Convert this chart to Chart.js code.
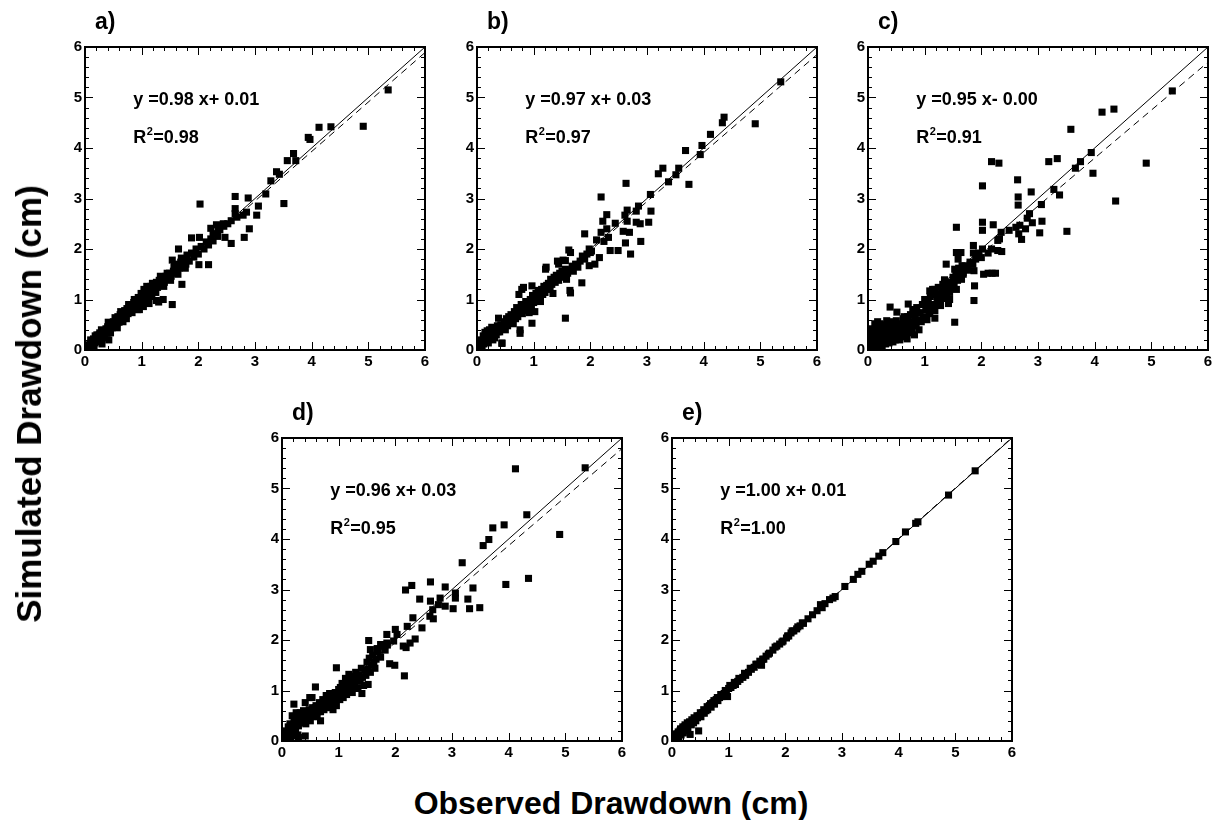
<!DOCTYPE html>
<html>
<head>
<meta charset="utf-8">
<script src="https://cdn.jsdelivr.net/npm/chart.js@4.4.0/dist/chart.umd.min.js"></script>
<style>
    body { margin: 0; background: #fff; }
    #wrap { position: relative; width: 1221px; height: 820px; overflow: hidden; font-family: "Liberation Sans", Arial, sans-serif; }
    .panel { position: absolute; }
    .axis-title { position: absolute; font-weight: bold; white-space: nowrap; color: #000; }
    #yTitle { left: 29px; top: 404px; font-size: 35px; transform: translate(-50%, -50%) rotate(-90deg); }
    #xTitle { left: 611px; top: 803px; font-size: 32px; transform: translate(-50%, -50%); }
</style>
</head>
<body>
<div id="wrap">
    <canvas id="chartA" class="panel" width="390" height="370" style="left:45px;top:7px"></canvas>
    <canvas id="chartB" class="panel" width="390" height="370" style="left:437px;top:7px"></canvas>
    <canvas id="chartC" class="panel" width="390" height="370" style="left:828px;top:7px"></canvas>
    <canvas id="chartD" class="panel" width="390" height="370" style="left:242px;top:398px"></canvas>
    <canvas id="chartE" class="panel" width="390" height="370" style="left:632px;top:398px"></canvas>
    <div id="yTitle" class="axis-title">Simulated Drawdown (cm)</div>
    <div id="xTitle" class="axis-title">Observed Drawdown (cm)</div>
</div>
<script>
// ---------- DATA: [observed, simulated] pairs per panel ----------
const pointsA = [
    [0.00,0.02],[0.02,0.00],[0.03,0.06],[0.05,0.02],[0.06,0.10],[0.08,0.04],[0.09,0.13],[0.11,0.08],[0.12,0.18],[0.14,0.10],
    [0.15,0.22],[0.17,0.14],[0.18,0.28],[0.20,0.16],[0.22,0.25],[0.23,0.19],[0.25,0.30],[0.27,0.22],[0.29,0.40],[0.30,0.12],
    [0.31,0.28],[0.33,0.36],[0.35,0.30],[0.37,0.42],[0.39,0.33],[0.41,0.55],[0.42,0.20],[0.44,0.40],[0.46,0.52],[0.48,0.44],
    [0.50,0.56],[0.52,0.47],[0.54,0.60],[0.56,0.52],[0.58,0.66],[0.60,0.55],[0.62,0.70],[0.64,0.60],[0.66,0.74],[0.68,0.64],
    [0.70,0.78],[0.72,0.68],[0.74,0.82],[0.76,0.72],[0.78,0.86],[0.80,0.76],[0.82,0.90],[0.84,0.80],[0.86,0.94],[0.88,0.84],
    [0.90,1.00],[0.92,0.88],[0.94,1.04],[0.96,0.80],[0.98,0.96],[1.00,1.10],[1.02,0.94],[1.04,1.20],[1.06,1.02],[1.08,1.14],
    [1.10,0.98],[1.12,1.22],[1.14,1.06],[1.16,1.26],[1.18,1.12],[1.20,1.30],[1.23,1.18],[1.26,1.34],[1.28,1.24],[1.31,1.38],
    [1.34,1.28],[1.37,1.42],[1.40,1.34],[1.43,1.46],[1.46,1.40],[1.49,1.52],[1.52,1.46],[1.54,1.78],[1.56,1.56],[1.58,1.66],
    [1.60,1.52],[1.63,1.70],[1.66,1.62],[1.69,1.74],[1.72,1.66],[1.75,1.80],[1.78,1.70],[1.80,1.88],[1.84,1.76],[1.88,1.92],
    [1.92,1.84],[1.96,2.00],[2.00,1.90],[2.05,2.05],[2.10,2.00],[2.14,2.14],[2.18,2.08],[2.22,2.20],[2.26,2.16],[2.30,2.30],
    [2.34,2.25],[2.38,2.38],[2.45,2.45],[2.52,2.50],[2.58,2.56],
    [0.10,0.20],[0.16,0.08],[0.21,0.30],[0.26,0.34],[0.34,0.24],[0.40,0.46],[0.45,0.34],[0.53,0.64],[0.57,0.44],[0.63,0.76],
    [0.67,0.56],[0.73,0.62],[0.77,0.90],[0.83,0.74],[0.87,1.00],[0.93,0.80],[0.99,1.12],[1.03,0.86],[1.09,1.26],[1.13,0.92],
    [1.19,1.32],[1.25,1.14],[1.33,1.46],[1.39,1.26],[1.45,1.52],[1.51,1.38],[1.57,1.64],[1.64,1.50],[1.70,1.82],[1.77,1.62],
    [5.35,5.15],[4.91,4.43],[4.34,4.42],[4.13,4.41],[3.94,4.21],[3.97,4.17],[3.68,3.89],[3.57,3.75],[3.72,3.75],[3.38,3.53],
    [3.43,3.48],[3.28,3.35],[3.19,3.09],[3.51,2.90],[3.06,2.85],[3.03,2.67],[2.88,3.01],[2.65,3.04],[2.65,2.80],[2.65,2.70],
    [2.68,2.63],[2.79,2.67],[2.85,2.73],[2.90,2.40],[2.81,2.23],[2.58,2.11],[2.47,2.23],[2.44,2.50],[2.32,2.48],[2.35,2.40],
    [2.22,2.41],[2.26,2.30],[2.03,2.89],[2.02,2.23],[1.88,2.22],[2.01,1.69],[2.18,1.69],[1.65,2.00],[1.71,1.30],[1.59,1.67],
    [1.38,1.00],[1.54,0.90],[1.26,0.98],[1.30,0.95]
];
const pointsB = [
    [0.00,0.03],[0.02,0.10],[0.03,0.00],[0.05,0.15],[0.06,0.05],[0.08,0.20],[0.09,0.08],[0.11,0.28],[0.12,0.12],[0.14,0.35],
    [0.15,0.16],[0.17,0.22],[0.19,0.30],[0.20,0.14],[0.22,0.40],[0.24,0.26],[0.26,0.45],[0.28,0.20],[0.30,0.34],[0.32,0.42],
    [0.34,0.30],[0.36,0.48],[0.38,0.63],[0.40,0.36],[0.42,0.50],[0.44,0.14],[0.46,0.44],[0.48,0.56],[0.50,0.40],[0.52,0.62],
    [0.54,0.48],[0.56,0.66],[0.58,0.56],[0.60,0.70],[0.62,0.58],[0.64,0.52],[0.66,0.76],[0.68,0.62],[0.70,0.84],[0.72,0.66],
    [0.74,1.10],[0.76,0.40],[0.78,0.90],[0.80,0.72],[0.82,1.24],[0.84,0.86],[0.86,0.96],[0.88,0.78],[0.90,0.92],[0.92,0.74],
    [0.94,1.00],[0.96,0.86],[0.98,1.08],[1.00,0.94],[1.02,0.76],[1.04,1.12],[1.06,1.00],[1.08,1.18],[1.10,1.04],[1.12,0.96],
    [1.14,1.20],[1.16,1.10],[1.18,1.26],[1.20,1.14],[1.22,1.64],[1.24,1.20],[1.26,1.32],[1.28,1.22],[1.30,1.40],[1.32,1.30],
    [1.34,1.12],[1.36,1.44],[1.38,1.34],[1.40,1.48],[1.42,1.76],[1.44,1.38],[1.46,1.52],[1.48,1.44],[1.50,1.56],[1.52,1.78],
    [1.54,1.48],[1.56,1.60],[1.58,1.40],[1.60,1.52],[1.62,1.98],[1.64,1.18],[1.66,1.58],[1.68,1.66],[1.70,1.56],[1.74,1.70],
    [1.78,1.64],[1.82,1.76],[1.86,1.86],[1.90,1.80],[1.94,1.90],[1.98,2.00],[2.02,1.96],
    [0.07,0.12],[0.13,0.22],[0.18,0.38],[0.25,0.30],[0.31,0.24],[0.37,0.36],[0.43,0.42],[0.49,0.48],[0.55,0.58],[0.61,0.62],
    [0.67,0.68],[0.73,0.74],[0.79,0.80],[0.85,0.90],[0.91,0.86],[0.99,0.98],[1.05,1.06],[1.11,1.12],[1.17,1.16],[1.23,1.28],
    [1.29,1.26],[1.35,1.36],[1.41,1.40],[1.47,1.50],[1.53,1.54],
    [5.36,5.31],[4.91,4.48],[4.36,4.61],[4.33,4.50],[4.12,4.27],[3.97,4.05],[3.94,3.87],[3.68,3.95],[3.56,3.60],[3.51,3.47],
    [3.74,3.28],[3.38,3.33],[3.28,3.60],[3.20,3.49],[3.06,3.08],[3.07,2.75],[3.03,2.53],[2.89,2.15],[2.88,2.50],[2.81,2.75],
    [2.85,2.85],[2.81,2.53],[2.63,3.30],[2.65,2.77],[2.61,2.67],[2.65,2.55],[2.58,2.35],[2.69,2.33],[2.62,2.12],[2.71,1.90],
    [2.49,1.97],[2.44,2.51],[2.35,1.97],[2.29,2.68],[2.19,3.03],[2.22,2.55],[2.19,2.33],[2.11,2.18],[2.29,2.40],[2.32,2.23],
    [2.24,2.15],[2.16,1.83],[2.08,1.70],[2.00,1.93],[1.90,2.30],[1.98,1.67],[1.85,1.33],[1.65,1.93],[1.65,1.13],[1.56,1.77],
    [1.56,0.63],[1.44,1.70],[1.21,1.60],[0.97,1.27],[0.97,0.53],[0.79,1.20],[0.44,0.13],[0.76,0.33]
];
const pointsC = [
    [0.00,0.02],[0.02,0.08],[0.03,0.00],[0.04,0.15],[0.05,0.04],[0.06,0.22],[0.07,0.10],[0.08,0.30],[0.09,0.05],[0.10,0.18],
    [0.11,0.40],[0.12,0.08],[0.13,0.26],[0.14,0.50],[0.15,0.12],[0.16,0.34],[0.17,0.06],[0.18,0.45],[0.19,0.20],[0.20,0.10],
    [0.21,0.52],[0.22,0.30],[0.23,0.14],[0.24,0.40],[0.25,0.08],[0.26,0.24],[0.27,0.50],[0.28,0.16],[0.30,0.34],[0.31,0.12],
    [0.32,0.28],[0.33,0.58],[0.34,0.18],[0.36,0.40],[0.37,0.14],[0.38,0.24],[0.40,0.50],[0.41,0.20],[0.42,0.32],[0.44,0.16],
    [0.45,0.44],[0.46,0.26],[0.48,0.20],[0.49,0.36],[0.50,0.58],[0.52,0.24],[0.53,0.42],[0.55,0.30],[0.56,0.20],[0.58,0.50],
    [0.59,0.34],[0.60,0.26],[0.62,0.62],[0.63,0.40],[0.65,0.30],[0.66,0.55],[0.68,0.44],[0.69,0.22],[0.70,0.66],[0.72,0.50],
    [0.73,0.34],[0.75,0.70],[0.76,0.46],[0.78,0.38],[0.79,0.80],[0.80,0.56],[0.82,0.30],[0.83,0.68],[0.85,0.48],[0.86,0.84],
    [0.88,0.60],[0.90,0.40],[0.92,0.74],[0.94,0.56],[0.96,0.90],[0.98,0.66],[1.00,1.00],[1.02,0.80],[1.04,0.60],[1.06,0.92],
    [1.08,0.72],[1.10,1.06],[1.12,0.86],[1.14,1.20],[1.16,0.90],[1.18,0.78],[1.20,1.10],[1.22,0.96],[1.24,1.24],[1.26,1.04],
    [1.28,0.88],[1.30,1.16],[1.32,1.30],[1.34,1.02],[1.36,1.20],[1.38,1.08],[1.40,1.26],[1.42,0.92],[1.44,1.14],[1.46,1.34],
    [1.48,1.22],[1.50,1.44],[1.52,1.30],[1.55,1.50],[1.58,1.38],[1.60,1.62],[1.62,1.46],[1.65,1.56],[1.68,1.50],[1.72,1.66],
    [1.76,1.58],[1.80,1.74],[1.84,1.70],[1.90,1.80],[1.95,1.92],
    [0.02,0.20],[0.05,0.30],[0.08,0.42],[0.12,0.52],[0.17,0.56],[0.20,0.30],[0.25,0.44],[0.29,0.22],[0.35,0.50],[0.39,0.30],
    [0.43,0.56],[0.47,0.42],[0.51,0.34],[0.54,0.52],[0.57,0.40],[0.61,0.48],[0.64,0.66],[0.67,0.36],[0.71,0.58],[0.74,0.42],
    [5.37,5.13],[4.91,3.70],[4.37,2.95],[4.34,4.77],[4.13,4.71],[3.58,4.37],[3.94,3.91],[3.97,3.50],[3.75,3.73],[3.66,3.60],
    [3.19,3.73],[3.34,3.79],[3.28,3.18],[3.38,3.07],[3.51,2.35],[3.06,2.88],[3.07,2.55],[3.03,2.32],[2.88,3.13],[2.90,2.52],
    [2.85,2.70],[2.81,2.61],[2.78,2.40],[2.64,3.37],[2.65,3.03],[2.65,2.87],[2.68,2.47],[2.71,2.19],[2.66,2.30],[2.61,2.43],
    [2.49,2.37],[2.35,2.33],[2.32,2.20],[2.18,3.73],[2.31,3.70],[2.02,3.25],[2.02,2.53],[2.02,2.37],[2.21,2.48],[2.29,2.17],
    [2.29,1.97],[2.36,1.95],[2.18,2.00],[2.12,1.92],[2.02,2.00],[2.00,1.83],[2.04,1.50],[2.12,1.52],[2.19,1.52],[2.25,1.52],
    [1.86,2.07],[1.86,1.92],[1.85,1.70],[1.87,1.57],[1.88,1.27],[1.87,0.98],[1.56,2.43],[1.56,1.93],[1.59,1.80],[1.64,1.93],
    [1.66,1.67],[1.68,1.53],[1.65,1.40],[1.53,1.60],[1.57,1.47],[1.56,1.20],[1.53,0.55],[1.38,1.70],[1.35,1.39],[1.18,1.20],
    [1.18,0.63],[1.09,0.73],[1.24,0.97],[1.09,1.17],[1.06,0.97],[1.44,1.00],[1.38,1.07],[0.39,0.85],[0.51,0.75],[0.71,0.91],
    [0.82,0.80]
];
const pointsD = [
    [0.00,0.02],[0.02,0.08],[0.03,0.00],[0.05,0.14],[0.06,0.04],[0.08,0.20],[0.09,0.08],[0.11,0.28],[0.12,0.12],[0.14,0.34],
    [0.15,0.06],[0.17,0.22],[0.18,0.50],[0.20,0.16],[0.22,0.40],[0.23,0.26],[0.25,0.56],[0.27,0.32],[0.28,0.12],[0.30,0.44],
    [0.32,0.56],[0.34,0.36],[0.36,0.50],[0.38,0.60],[0.40,0.44],[0.42,0.34],[0.44,0.56],[0.46,0.46],[0.48,0.62],[0.50,0.40],
    [0.52,0.54],[0.54,0.66],[0.56,0.48],[0.58,0.60],[0.60,0.70],[0.62,0.52],[0.64,0.64],[0.66,0.76],[0.68,0.58],[0.70,0.68],
    [0.72,0.82],[0.74,0.62],[0.76,0.72],[0.78,0.90],[0.80,0.66],[0.82,0.78],[0.84,0.94],[0.86,0.72],[0.88,0.84],[0.90,0.62],
    [0.92,0.78],[0.94,0.96],[0.96,0.70],[0.98,0.88],[1.00,1.02],[1.02,0.82],[1.04,0.94],[1.06,1.14],[1.08,0.86],[1.10,1.00],
    [1.12,1.24],[1.14,0.92],[1.16,1.08],[1.18,1.32],[1.20,1.00],[1.22,1.14],[1.24,0.96],[1.26,1.28],[1.28,1.10],[1.30,1.36],
    [1.32,1.18],[1.34,1.04],[1.36,1.30],[1.38,1.20],[1.40,1.44],[1.42,1.26],[1.44,1.10],[1.46,1.40],[1.48,1.30],[1.50,1.56],
    [1.52,1.42],[1.54,1.64],[1.56,1.36],[1.58,1.50],[1.60,1.70],[1.62,1.56],[1.64,1.44],[1.66,1.62],[1.70,1.76],[1.74,1.66],
    [1.78,1.88],[1.82,1.80],[1.86,1.90],
    [0.04,0.10],[0.07,0.16],[0.10,0.04],[0.13,0.20],[0.16,0.30],[0.19,0.10],[0.21,0.36],[0.24,0.18],[0.26,0.44],[0.29,0.30],
    [0.31,0.52],[0.35,0.44],[0.39,0.40],[0.43,0.50],[0.47,0.54],[0.51,0.60],[0.55,0.58],[0.59,0.66],[0.63,0.58],[0.67,0.70],
    [0.71,0.74],[0.75,0.80],[0.79,0.76],[0.83,0.86],[0.87,0.90],[0.91,0.86],[0.95,0.90],[0.99,0.96],[1.03,1.06],[1.07,1.00],
    [1.11,1.10],[1.15,1.18],[1.19,1.12],[1.23,1.20],[1.27,1.24],[1.31,1.28],
    [5.35,5.41],[4.12,5.39],[4.90,4.09],[4.32,4.48],[4.35,3.22],[3.92,4.28],[3.95,3.10],[3.72,4.22],[3.65,3.99],[3.55,3.87],
    [3.18,3.53],[3.37,3.03],[3.28,2.81],[3.31,2.62],[3.49,2.64],[3.06,2.93],[3.06,2.83],[3.02,2.62],[2.88,3.05],[2.88,2.67],
    [2.79,2.83],[2.76,2.70],[2.62,3.15],[2.62,2.77],[2.66,2.60],[2.61,2.47],[2.67,2.42],[2.29,3.08],[2.18,2.99],[2.43,2.81],
    [2.31,2.44],[2.21,2.27],[2.47,2.24],[2.35,2.02],[2.16,1.29],[2.26,1.94],[2.19,1.85],[2.14,1.88],[2.00,2.21],[2.03,2.11],
    [1.97,1.98],[1.99,1.50],[1.90,1.53],[1.85,2.11],[1.85,1.94],[1.81,1.88],[1.74,1.91],[1.68,1.83],[1.53,1.99],[1.56,1.81],
    [1.52,1.12],[1.41,0.94],[0.96,1.45],[0.59,1.07],[0.49,0.86],[0.53,0.86],[0.41,0.76],[0.21,0.73],[0.41,0.10],[0.29,0.07],
    [0.68,0.40]
];
const pointsE = [
    [0.00,0.01],[0.02,0.05],[0.04,0.02],[0.06,0.10],[0.08,0.05],[0.10,0.14],[0.12,0.08],[0.14,0.20],[0.16,0.12],[0.18,0.24],
    [0.20,0.16],[0.22,0.28],[0.24,0.20],[0.26,0.30],[0.28,0.24],[0.30,0.34],[0.32,0.13],[0.34,0.32],[0.36,0.38],[0.38,0.36],
    [0.40,0.42],[0.42,0.40],[0.45,0.46],[0.47,0.20],[0.48,0.50],[0.51,0.48],[0.54,0.56],[0.57,0.55],[0.60,0.60],[0.63,0.62],
    [0.66,0.70],[0.69,0.67],[0.72,0.76],[0.75,0.73],[0.78,0.82],[0.81,0.80],[0.84,0.86],[0.88,0.88],[0.92,0.94],[0.96,0.96],
    [0.98,0.88],[1.00,1.04],[1.04,1.06],[1.08,1.10],[1.12,1.12],[1.16,1.18],[1.20,1.22],[1.25,1.26],[1.30,1.30],[1.35,1.36],
    [1.40,1.42],[1.45,1.46],[1.50,1.52],[1.55,1.58],[1.58,1.50],[1.62,1.62],[1.66,1.68],[1.72,1.74],[1.78,1.80],[1.85,1.88],
    [1.90,1.92],[1.96,1.98],[2.02,2.04],[2.06,2.08],[2.10,2.14],[2.15,2.18],[2.20,2.22],[2.26,2.28],[2.32,2.33],[2.40,2.42],
    [2.48,2.50],[2.56,2.58],[2.62,2.70],[2.65,2.64],[2.70,2.72],[2.78,2.80],[2.84,2.83],[2.88,2.86],[3.05,3.06],[3.20,3.20],
    [3.28,3.30],[3.35,3.36],[3.48,3.50],[3.55,3.56],[3.65,3.66],[3.72,3.73],[3.95,3.95],[4.12,4.14],[4.30,4.31],[4.34,4.34],
    [4.88,4.87],[5.35,5.35],
    [0.03,0.08],[0.07,0.14],[0.11,0.18],[0.15,0.24],[0.19,0.28],[0.23,0.32],[0.27,0.36],[0.31,0.38],[0.35,0.42],[0.39,0.46],
    [0.44,0.50],[0.50,0.56],[0.56,0.62],[0.62,0.68],[0.68,0.74],[0.74,0.80],[0.80,0.86],[0.86,0.92],[0.94,1.00],[1.02,1.10],
    [1.10,1.16],[1.18,1.24],[1.28,1.34],[1.38,1.44],[1.48,1.52],[1.60,1.62],[1.70,1.72],[1.82,1.86],[1.94,1.96],[2.04,2.08],
    [2.12,2.18],[2.22,2.26],[2.30,2.34]
];

// fitted lines (slope, intercept) as printed on each panel
const panelLabels = ["a)", "b)", "c)", "d)", "e)"];
const slopes = [0.98, 0.97, 0.95, 0.96, 1.00];
const intercepts = [0.01, 0.03, 0.00, 0.03, 0.01];
const eqTexts = ["y =0.98 x+ 0.01", "y =0.97 x+ 0.03", "y =0.95 x- 0.00", "y =0.96 x+ 0.03", "y =1.00 x+ 0.01"];
const r2Texts = ["0.98", "0.97", "0.91", "0.95", "1.00"];
const axisTicks = [0, 1, 2, 3, 4, 5, 6];

const FONT = '"Liberation Sans", Arial, sans-serif';

// ---------- FRAME, INWARD TICKS AND TEXT ----------
const panelDecor = {
    id: "panelDecor",
    afterDatasetsDraw(chart, args, opts) {
        const { ctx, chartArea: area, scales: { x, y } } = chart;
        ctx.save();
        ctx.strokeStyle = "#000";
        ctx.lineWidth = 1;
        for (let i = 0; i <= 30; i++) {
            const v = i / 5;
            const len = i % 5 === 0 ? 8 : 4;
            const px = Math.round(x.getPixelForValue(v)) + 0.5;
            const py = Math.round(y.getPixelForValue(v)) + 0.5;
            ctx.beginPath();
            ctx.moveTo(px, area.bottom); ctx.lineTo(px, area.bottom - len);
            ctx.moveTo(px, area.top); ctx.lineTo(px, area.top + len);
            ctx.moveTo(area.left, py); ctx.lineTo(area.left + len, py);
            ctx.moveTo(area.right, py); ctx.lineTo(area.right - len, py);
            ctx.stroke();
        }
        ctx.lineWidth = 2;
        ctx.strokeRect(area.left, area.top, area.right - area.left, area.bottom - area.top);

        ctx.fillStyle = "#000";
        ctx.textBaseline = "middle";
        ctx.textAlign = "left";
        ctx.font = "bold 23px " + FONT;
        ctx.fillText(opts.label, area.left + 10, area.top - 24);

        const tx = x.getPixelForValue(0.85);
        ctx.font = "bold 18px " + FONT;
        ctx.fillText(opts.eq, tx, y.getPixelForValue(4.95));
        const ry = y.getPixelForValue(4.2);
        ctx.fillText("R", tx, ry);
        const rw = ctx.measureText("R").width;
        ctx.font = "bold 11px " + FONT;
        ctx.fillText("2", tx + rw + 0.5, ry - 6);
        const sw = ctx.measureText("2").width;
        ctx.font = "bold 18px " + FONT;
        ctx.fillText("=" + opts.r2, tx + rw + sw + 1, ry);
        ctx.restore();
    }
};

function makePanel(canvasId, points, idx) {
    const m = slopes[idx], b = intercepts[idx];
    const tickFont = { family: FONT, size: 15, weight: "bold" };
    new Chart(document.getElementById(canvasId), {
        type: "scatter",
        data: {
            datasets: [
                {
                    data: [{ x: 0, y: 0 }, { x: 6, y: 6 }],
                    type: "line", borderColor: "#000", borderWidth: 1,
                    pointRadius: 0, fill: false, order: 1
                },
                {
                    data: [{ x: 0, y: b }, { x: 6, y: m * 6 + b }],
                    type: "line", borderColor: "#000", borderWidth: 1, borderDash: [7, 5],
                    pointRadius: 0, fill: false, order: 2
                },
                {
                    data: points.map(p => ({ x: p[0], y: p[1] })),
                    pointStyle: "rect", pointRadius: 5, borderWidth: 0,
                    backgroundColor: "#000", borderColor: "#000", order: 3
                }
            ]
        },
        options: {
            responsive: false,
            animation: false,
            layout: { padding: { top: 40, right: 10, left: 0, bottom: 0 } },
            plugins: {
                legend: { display: false },
                tooltip: { enabled: false },
                panelDecor: { label: panelLabels[idx], eq: eqTexts[idx], r2: r2Texts[idx] }
            },
            scales: {
                x: {
                    type: "linear", min: 0, max: 6,
                    afterBuildTicks: s => { s.ticks = axisTicks.map(v => ({ value: v })); },
                    ticks: { font: tickFont, color: "#000", padding: 3, maxRotation: 0 },
                    grid: { display: false, drawTicks: false },
                    border: { display: false },
                    afterFit: s => { s.height = 27; }
                },
                y: {
                    type: "linear", min: 0, max: 6,
                    afterBuildTicks: s => { s.ticks = axisTicks.map(v => ({ value: v })); },
                    ticks: { font: tickFont, color: "#000", padding: 3 },
                    grid: { display: false, drawTicks: false },
                    border: { display: false },
                    afterFit: s => { s.width = 40; }
                }
            }
        },
        plugins: [panelDecor]
    });
}

makePanel("chartA", pointsA, 0);
makePanel("chartB", pointsB, 1);
makePanel("chartC", pointsC, 2);
makePanel("chartD", pointsD, 3);
makePanel("chartE", pointsE, 4);
</script>
</body>
</html>
